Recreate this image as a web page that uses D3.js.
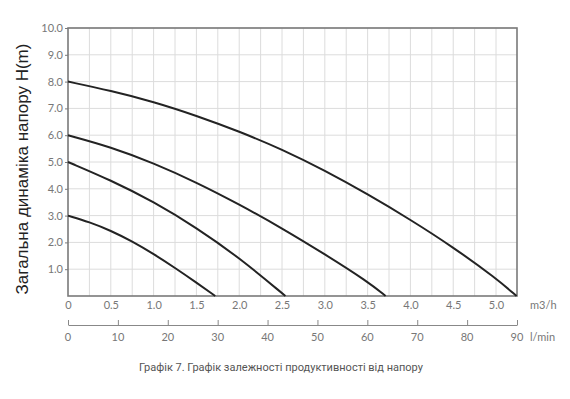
<!DOCTYPE html>
<html>
<head>
<meta charset="utf-8">
<script src="https://cdn.jsdelivr.net/npm/d3@7"></script>
<style>
  body { margin: 0; background: #fff; }
  svg text { font-family: Lato, "DejaVu Sans", sans-serif; }
</style>
</head>
<body>
<svg id="chart" width="570" height="399"></svg>
<script>
const width = 570;
const height = 399;
const marginTop = 28;
const marginLeft = 68;
const plotRight = 517;
const plotBottom = 296;

// pump curves: flow in m3/h, head in m
const curve8 = [[0, 8.0], [0.5, 7.66], [1.0, 7.25], [1.5, 6.73], [2.0, 6.14], [2.5, 5.47], [3.0, 4.68], [3.5, 3.80], [4.0, 2.85], [4.5, 1.82], [5.0, 0.66], [5.24, 0]];
const curve6 = [[0, 6.0], [0.5, 5.56], [1.0, 4.96], [1.5, 4.24], [2.0, 3.42], [2.5, 2.53], [3.0, 1.56], [3.5, 0.54], [3.71, 0]];
const curve5 = [[0, 5.0], [0.5, 4.32], [1.0, 3.52], [1.5, 2.55], [2.0, 1.43], [2.54, 0]];
const curve3 = [[0, 3.0], [0.25, 2.76], [0.5, 2.44], [0.75, 2.04], [1.0, 1.57], [1.25, 1.05], [1.5, 0.5], [1.72, 0]];

const yTicks = [1, 2, 3, 4, 5, 6, 7, 8, 9, 10];
const m3Ticks = [0, 0.5, 1.0, 1.5, 2.0, 2.5, 3.0, 3.5, 4.0, 4.5, 5.0];
const lminTicks = [0, 10, 20, 30, 40, 50, 60, 70, 80, 90];

const svg = d3.select('#chart');

const xScale = d3.scaleLinear().domain([0, 5.245]).range([marginLeft, plotRight]);
const yScale = d3.scaleLinear().domain([0, 10]).range([plotBottom, marginTop]);
const xScaleL = d3.scaleLinear().domain([0, 90]).range([marginLeft, plotRight]);

// grid
const vGrid = d3.range(1, 21).map((i) => i * 0.25);
svg.append('g').selectAll('line').data(vGrid).join('line')
    .attr('x1', (d) => xScale(d)).attr('x2', (d) => xScale(d))
    .attr('y1', marginTop).attr('y2', plotBottom)
    .attr('stroke', '#dcdcdc').attr('stroke-width', 1);
svg.append('g').selectAll('line').data(yTicks).join('line')
    .attr('x1', marginLeft).attr('x2', plotRight)
    .attr('y1', (d) => yScale(d)).attr('y2', (d) => yScale(d))
    .attr('stroke', '#dcdcdc').attr('stroke-width', 1);

// frame
svg.append('rect')
    .attr('x', marginLeft).attr('y', marginTop)
    .attr('width', plotRight - marginLeft).attr('height', plotBottom - marginTop)
    .attr('fill', 'none').attr('stroke', '#7a7a7a').attr('stroke-width', 1.6);

// left axis
const yAxis = svg.append('g')
    .attr('transform', `translate(${marginLeft},0)`)
    .call(d3.axisLeft(yScale).tickValues(yTicks).tickFormat(d3.format('.1f')).tickSize(3).tickPadding(2));
yAxis.select('.domain').remove();
yAxis.selectAll('line').attr('stroke', '#7a7a7a');
yAxis.selectAll('text').attr('fill', '#777').attr('font-size', 11).style('font-family', 'Lato, sans-serif');

// bottom m3/h axis
const xAxis = svg.append('g')
    .attr('transform', `translate(0,${plotBottom})`)
    .call(d3.axisBottom(xScale).tickValues(m3Ticks)
        .tickFormat((d) => d === 0 ? '0' : d3.format('.1f')(d)).tickSize(0).tickPadding(5));
xAxis.select('.domain').remove();
xAxis.selectAll('text').attr('fill', '#777').attr('font-size', 11).style('font-family', 'Lato, sans-serif');

svg.append('text').attr('x', 530).attr('y', 309)
    .attr('fill', '#777').attr('font-size', 11).text('m3/h');

// l/min axis
const lAxis = svg.append('g')
    .attr('transform', 'translate(0,325)')
    .call(d3.axisTop(xScaleL).tickValues(lminTicks).tickSize(5).tickSizeOuter(0));
lAxis.select('.domain').attr('stroke', '#888').attr('stroke-width', 1.2);
lAxis.selectAll('line').attr('stroke', '#888');
lAxis.selectAll('text').remove();
svg.append('g').selectAll('text').data(lminTicks).join('text')
    .attr('x', (d) => xScaleL(d)).attr('y', 341)
    .attr('text-anchor', 'middle').attr('fill', '#777').attr('font-size', 11)
    .text((d) => d);
svg.append('text').attr('x', 530).attr('y', 341)
    .attr('fill', '#777').attr('font-size', 11).text('l/min');

// curves
const line = d3.line()
    .x((p) => xScale(p[0]))
    .y((p) => yScale(p[1]))
    .curve(d3.curveBasis);

svg.append('g').selectAll('path').data([curve8, curve6, curve5, curve3]).join('path')
    .attr('d', line)
    .attr('fill', 'none').attr('stroke', '#232323').attr('stroke-width', 2);

// y title
svg.append('text')
    .attr('transform', 'translate(28,169) rotate(-90)')
    .attr('text-anchor', 'middle')
    .attr('fill', '#222').attr('font-size', 17)
    .style('font-family', '"Liberation Sans", Arial, sans-serif')
    .text('Загальна динаміка напору H(m)');

// caption
svg.append('text')
    .attr('x', 281).attr('y', 371)
    .attr('text-anchor', 'middle')
    .attr('fill', '#555').attr('font-size', 11)
    .style('font-family', 'Roboto, sans-serif')
    .text('Графік 7. Графік залежності продуктивності від напору');
</script>
</body>
</html>
